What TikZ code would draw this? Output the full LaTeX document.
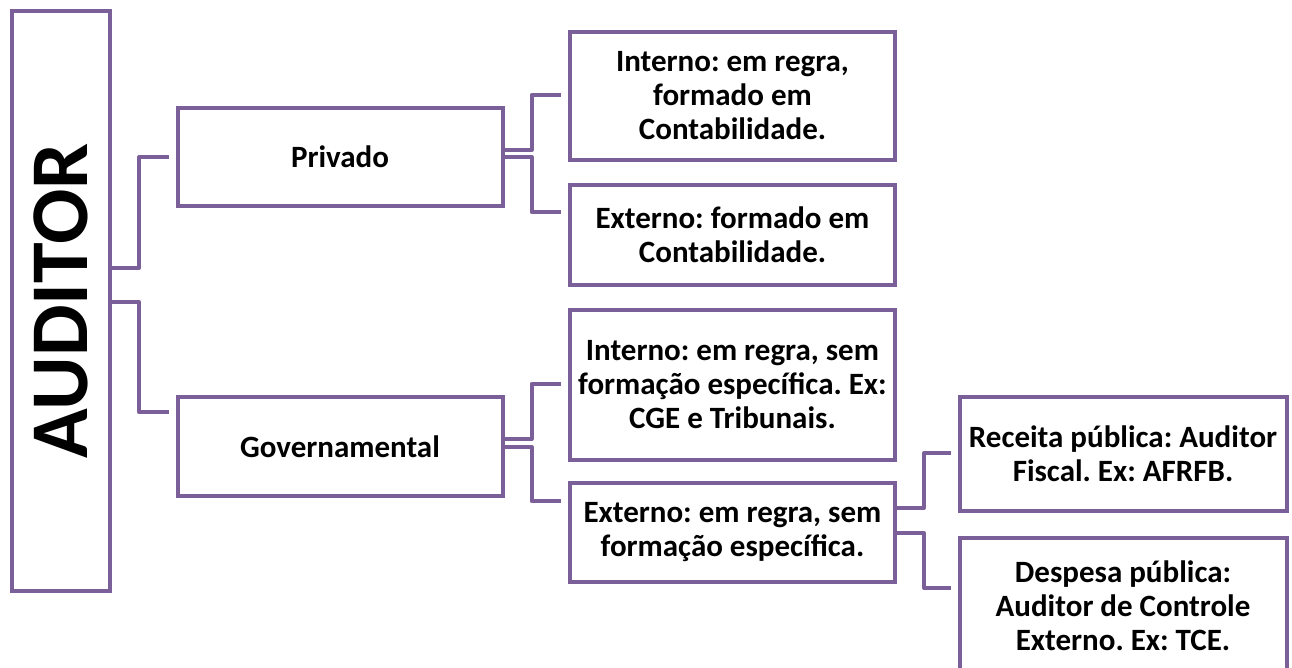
\documentclass[tikz,border=0pt]{standalone}
\usepackage{xcolor}
\usepackage{fontspec}
\setmainfont{Carlito}
\usepackage{tikz}

\definecolor{auditpurple}{HTML}{7B5F99}
\frenchspacing

\begin{document}
\begin{tikzpicture}[
		x=1pt, y=-1pt,
		line width=4pt,
		every node/.style={font=\bfseries\fontsize{31}{34}\selectfont, text=black},
		box/.style={draw=auditpurple, fill=white, outer sep=0pt, inner sep=0pt, align=center, minimum width=325pt},
		rootbox/.style={box, minimum width=98pt, minimum height=580pt, font=\bfseries\fontsize{82}{82}\selectfont},
		link/.style={draw=auditpurple, line join=round}
		]

	\useasboundingbox (0, 0) rectangle (1292, 667);

	% Auditor
	\node[rootbox] (aud) at (61, 301) {\rotatebox{90}{AUDITOR}};

	% Privado / Governamental
	\node[box, minimum height=98pt] (priv) at (340, 157) {Privado};
	\node[box, minimum height=99pt] (gov) at (340, 446.5) {Governamental};

	% Privado: interno e externo
	\node[box, minimum height=128pt] (intp) at (732.5, 96) {Interno: em regra,\\ formado em\\ Contabilidade.};
	\node[box, minimum height=100pt] (extp) at (732.5, 235) {Externo: formado em\\ Contabilidade.};

	% Governamental: interno e externo
	\node[box, minimum height=150pt] (intg) at (732.5, 385) {Interno: em regra, sem\\ formação específica. Ex:\\ CGE e Tribunais.};
	\node[box, minimum height=99pt] (extg) at (732.5, 532.5) {Externo: em regra, sem\\ formação específica.};

	% Externo governamental
	\node[box, minimum width=327pt, minimum height=114pt] (rec) at (1123, 454) {Receita pública: Auditor\\ Fiscal. Ex: AFRFB.};
	\node[box, minimum width=327pt, minimum height=136pt] (desp) at (1123, 606) {Despesa pública:\\ Auditor de Controle\\ Externo. Ex: TCE.};

	% Connectors
	\foreach \from/\to/\dy/\ty in {aud/priv/33/0, aud/gov/-1/34.5, priv/intp/7/1, priv/extp/0/23,
			gov/intg/7.5/1, gov/extg/-0.5/31.5, extg/rec/24.5/1, extg/desp/-0.5/18}{
		\draw[link] ([yshift=\dy pt]\from.east) -- ++(29, 0) |- ([xshift=-9pt, yshift=\ty pt]\to.west);
	}

\end{tikzpicture}
\end{document}
